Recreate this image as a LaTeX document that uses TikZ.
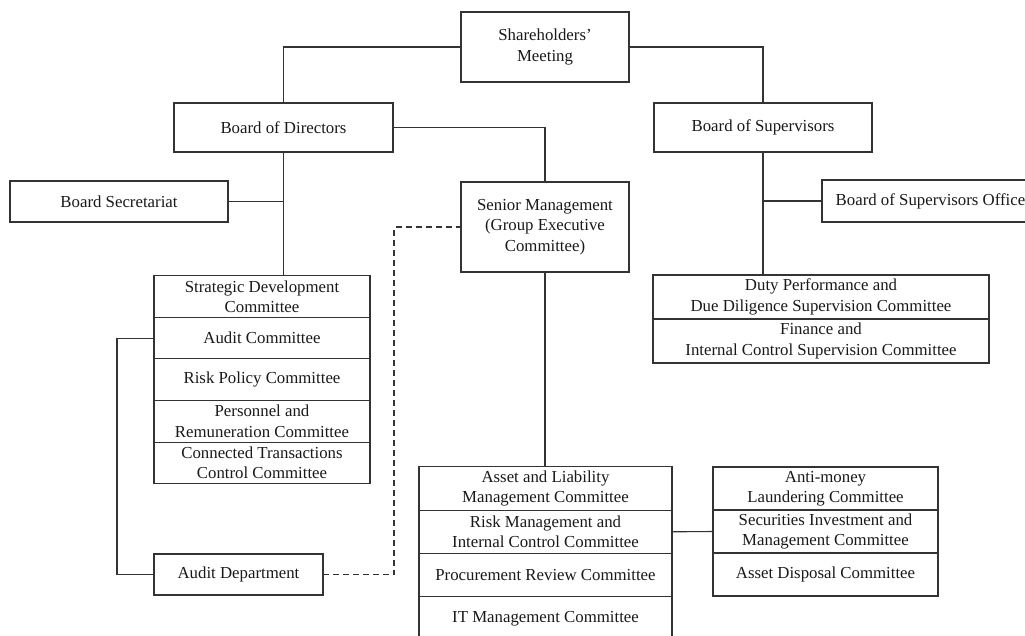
\documentclass[tikz,border=0pt]{standalone}
\usepackage{fontspec}
\setmainfont{Liberation Serif}
\usepackage{tikz}
\usetikzlibrary{positioning, calc}
\newcommand{\orgfont}{\fontsize{16.8}{20.5}\selectfont}
\tikzset{%
	unit/.style={draw=black!80, line width=1.1pt, rectangle, align=center,%
		inner sep=2pt, outer sep=0pt, font=\orgfont, text=black!90},
	link/.style={draw=black!80, line width=1.1pt},
	duty/.style={unit, minimum width=336pt, minimum height=44pt},
	bcomm/.style={unit, minimum width=216pt, minimum height=41.6pt},
	mcomm/.style={unit, minimum width=253pt, minimum height=43.3pt},
	scomm/.style={unit, minimum width=225pt, minimum height=43pt},
	dotlink/.style={link, dash pattern=on 6pt off 4pt}
}
\begin{document}
\begin{tikzpicture}[x=1pt, y=-1pt]
	\useasboundingbox (0,0) rectangle (1025,635);

	\node[unit, minimum width=168pt, minimum height=70pt] (share) at (545,47) {Shareholders'\\Meeting};
	\node[unit, minimum width=219pt, minimum height=49pt] (bod) at (283.5,127.5) {Board of Directors};
	\node[unit, minimum width=218pt, minimum height=49pt] (bos) at (763,127.5) {Board of Supervisors};
	\node[unit, minimum width=218pt, minimum height=41pt] (sec) at (119,201.5) {Board Secretariat};
	\node[unit, minimum width=217pt, minimum height=42pt] (boso) at (930.5,201) {Board of Supervisors Office};
	\node[unit, minimum width=168pt, minimum height=90pt] (sm) at (545,227) {Senior Management\\(Group Executive\\Committee)};

	\node[bcomm] (sdc) at (262,296.5) {Strategic Development\\Committee};
	\node[bcomm, below=0pt of sdc] (ac) {Audit Committee};
	\node[bcomm, below=0pt of ac] (rpc) {Risk Policy Committee};
	\node[bcomm, below=0pt of rpc] (prc) {Personnel and\\Remuneration Committee};
	\node[bcomm, below=0pt of prc] (ctc) {Connected Transactions\\Control Committee};

	\node[unit, minimum width=169pt, minimum height=41pt] (ad) at (238.5,574.5) {Audit Department};

	\node[duty] (dds) at (821,297) {Duty Performance and\\Due Diligence Supervision Committee};
	\node[duty, below=0pt of dds] (fic) {Finance and\\Internal Control Supervision Committee};

	\node[mcomm] (alm) at (545.5,488.5) {Asset and Liability\\Management Committee};
	\node[mcomm, below=0pt of alm] (rmic) {Risk Management and\\Internal Control Committee};
	\node[mcomm, below=0pt of rmic] (prv) {Procurement Review Committee};
	\node[mcomm, below=0pt of prv] (itm) {IT Management Committee};

	\node[scomm] (aml) at (825.5,488.5) {Anti-money\\Laundering Committee};
	\node[scomm, below=0pt of aml] (sim) {Securities Investment and\\Management Committee};
	\node[scomm, below=0pt of sim] (adc) {Asset Disposal Committee};

	\coordinate (bend) at (394,227);

	\draw[link] (share.west) -| (bod.north);
	\draw[link] (share.east) -| (bos.north);
	\draw[link] (bod.east) -| (sm.north);
	\draw[link] (bod.south) -- (bod.south |- sdc.north);
	\draw[link] (sec.east) -- (sec.east -| bod.south);
	\draw[link] (bos.south) -- (bos.south |- dds.north);
	\draw[link] (boso.west) -- (boso.west -| bos.south);
	\draw[link] (ac.west) -- ++(-37,0) |- (ad.west);
	\draw[dotlink] (ad.east) -| (bend) -- (sm.west);
	\draw[link] (sm.south) -- (sm.south |- alm.north);
	\draw[link] (rmic.east) -- (sim.west);
\end{tikzpicture}
\end{document}
